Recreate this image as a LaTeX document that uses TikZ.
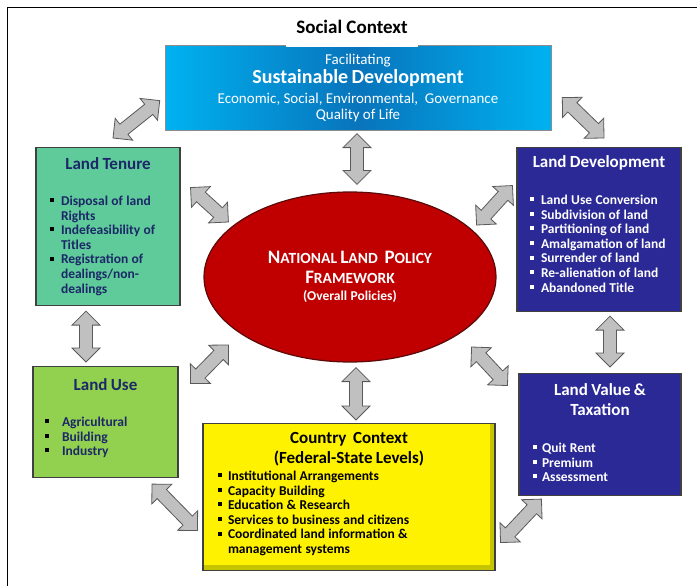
\documentclass[tikz,border=0pt]{standalone}
\usepackage{fontspec}
\setmainfont{Carlito}
\usetikzlibrary{calc,shapes.geometric}

\definecolor{skyedge}{RGB}{0,178,240}
\definecolor{skymid}{RGB}{8,116,188}
\definecolor{tenurefill}{RGB}{95,202,154}
\definecolor{usefill}{RGB}{146,208,80}
\definecolor{devfill}{RGB}{43,41,150}
\definecolor{policyfill}{RGB}{192,0,0}
\definecolor{policyedge}{RGB}{90,10,10}
\definecolor{bevel}{RGB}{196,196,0}
\definecolor{navytxt}{RGB}{28,40,104}
\definecolor{arrowgray}{RGB}{192,192,192}

% square bullet
\newcommand\sqb[1][black]{\textcolor{#1}{\rule[3.4pt]{4pt}{4pt}}}
% heading and bullet list inside a box
\newcommand\bhead[1]{{\centering\fontsize{17}{20}\selectfont #1\par}}
\newenvironment{blist}[3]{\par\vspace{#1}\noindent\hspace*{#2}%
  \fontsize{13.5}{14.6}\selectfont\begin{tabular}[t]{@{}l@{\hspace{#3}}l@{}}}%
  {\end{tabular}\par}
% small caps made by hand
\newcommand\fsc[2]{#1{\fontsize{15.5}{20}\selectfont #2}}

% fat grey two-headed arrow from #1 to #2
\newcommand\dblarrow[2]{%
  \path (#1) coordinate (da) (#2) coordinate (db);
  \path ($(da)!14pt!(db)$) coordinate (dah) ($(db)!14pt!(da)$) coordinate (dbh);
  \draw[fatarrow] (da) -- ($(dah)!14pt!90:(db)$) -- ($(dah)!6.5pt!90:(db)$)
    -- ($(dbh)!6.5pt!-90:(da)$) -- ($(dbh)!14pt!-90:(da)$) -- (db)
    -- ($(dbh)!14pt!90:(da)$) -- ($(dbh)!6.5pt!90:(da)$)
    -- ($(dah)!6.5pt!-90:(db)$) -- ($(dah)!14pt!-90:(db)$) -- cycle;}

\tikzset{
  box/.style={draw=black!75, line width=1.1pt, inner sep=0pt, anchor=north, font=\bfseries},
  fatarrow/.style={fill=arrowgray, draw=black!65, line width=0.8pt, line join=miter},
}

\begin{document}
\begin{tikzpicture}[x=1pt,y=-1pt]
\useasboundingbox (0,0) rectangle (697,586);
\draw[line width=1.6pt] (7.5,586) -- (7.5,7.5) -- (697,7.5);

% goal box on top
\node[box, draw=black!45, line width=0.6pt, left color=skyedge, right color=skyedge,
  middle color=skymid, text=white, font=\mdseries, text width=386pt,
  text height=19pt, text depth=66pt] (sdev) at (358,45) {\lineskiplimit=-20pt\centering
  \fontsize{15}{17}\selectfont Facilitating\par
  \fontsize{20}{19}\selectfont\bfseries Sustainable Development\par
  \fontsize{15}{20}\selectfont\mdseries Economic, Social, Environmental,\ \ Governance\par
  \fontsize{15}{16}\selectfont Quality of Life\par};
\node[fill=white, font=\bfseries\fontsize{19}{22}\selectfont, inner xsep=10pt, inner ysep=0pt,
  text height=14pt, text depth=13pt, anchor=base] (social) at (352,34) {Social Context};

% the framework in the middle
\node[ellipse, draw=policyedge, line width=1.2pt, fill=policyfill, minimum width=292pt,
  minimum height=170pt, inner sep=0pt, text width=200pt, text=white,
  font=\bfseries] (policy) at (350,277) {\centering\fontsize{19}{20}\selectfont
  \fsc{N}{ATIONAL} \fsc{L}{AND}\ \ \fsc{P}{OLICY}\par
  \fsc{F}{RAMEWORK}\par
  \fontsize{13.5}{17}\selectfont (Overall Policies)\par};

% the five fields
\node[box, fill=tenurefill, text=navytxt, text width=144pt, text height=22pt,
  text depth=136pt] (tenure) at (108,147) {\bhead{Land Tenure}
  \begin{blist}{21.4pt}{14pt}{7pt}
  \sqb & Disposal of land\\ & Rights\\
  \sqb & Indefeasibility of\\ & Titles\\
  \sqb & Registration of\\ & dealings/non-\\ & dealings
  \end{blist}};

\node[box, fill=devfill, text=white, text width=164pt, text height=20pt,
  text depth=144pt] (landdev) at (599,147) {\bhead{Land Development}
  \begin{blist}{22.4pt}{13pt}{7pt}
  \sqb[white] & Land Use Conversion\\
  \sqb[white] & Subdivision of land\\
  \sqb[white] & Partitioning of land\\
  \sqb[white] & Amalgamation of land\\
  \sqb[white] & Surrender of land\\
  \sqb[white] & Re-alienation of land\\
  \sqb[white] & Abandoned Title
  \end{blist}};

\node[box, fill=usefill, text=navytxt, text width=145pt, text height=24pt,
  text depth=87pt] (landuse) at (105.5,366) {\bhead{Land Use}
  \begin{blist}{21.4pt}{12pt}{13pt}
  \sqb & Agricultural\\
  \sqb & Building\\
  \sqb & Industry
  \end{blist}};

\node[box, fill=yellow, text=black, text width=292pt, text height=20pt, text depth=127pt,
  path picture={
    \fill[bevel] ([xshift=-5pt]path picture bounding box.north east) rectangle (path picture bounding box.south east);
    \fill[bevel] (path picture bounding box.south west) rectangle ([yshift=6pt]path picture bounding box.south east);
  }] (country) at (349,423) {\bhead{Country\ \ Context\par(Federal-State Levels)}
  \begin{blist}{2.4pt}{15pt}{6pt}
  \sqb & Institutional Arrangements\\
  \sqb & Capacity Building\\
  \sqb & Education \& Research\\
  \sqb & Services to business and citizens\\
  \sqb & Coordinated land information \&\\
       & management systems
  \end{blist}};

\node[box, fill=devfill, text=white, text width=162pt, text height=22pt,
  text depth=100pt] (landval) at (600,373) {\bhead{Land Value \&\par Taxation}
  \begin{blist}{22.4pt}{14pt}{5pt}
  \sqb[white] & Quit Rent\\
  \sqb[white] & Premium\\
  \sqb[white] & Assessment
  \end{blist}};

% links
\dblarrow{$(tenure.north)+(5,-9)$}{$(sdev.south west)+(-5,-30)$}
\dblarrow{$(sdev.south east)+(11,-33)$}{$(landdev.north)+(5,-9)$}
\dblarrow{$(sdev.south)+(-1,3)$}{$(policy.north)+(7,-7)$}
\dblarrow{$(tenure.east)+(10,-39)$}{$(policy.west)+(25,-55)$}
\dblarrow{$(landdev.west)+(-4,-44)$}{$(policy.east)+(-20,-52)$}
\dblarrow{$(tenure.south)+(-22,5)$}{$(landuse.north)+(-19.5,-4)$}
\dblarrow{$(landdev.south)+(11,4)$}{$(landval.north)+(10,-6)$}
\dblarrow{$(landuse.east)+(12,-38.5)$}{$(policy.west)+(25,68)$}
\dblarrow{$(policy.east)+(-25,70)$}{$(landval.west)+(-11,-49)$}
\dblarrow{$(policy.south)+(6,5)$}{$(country.north)+(7,-3)$}
\dblarrow{$(landuse.south)+(46.5,6)$}{$(country.west)+(-5,33.5)$}
\dblarrow{$(landval.south west)+(23,3)$}{$(country.east)+(5,45.5)$}
\end{tikzpicture}
\end{document}
